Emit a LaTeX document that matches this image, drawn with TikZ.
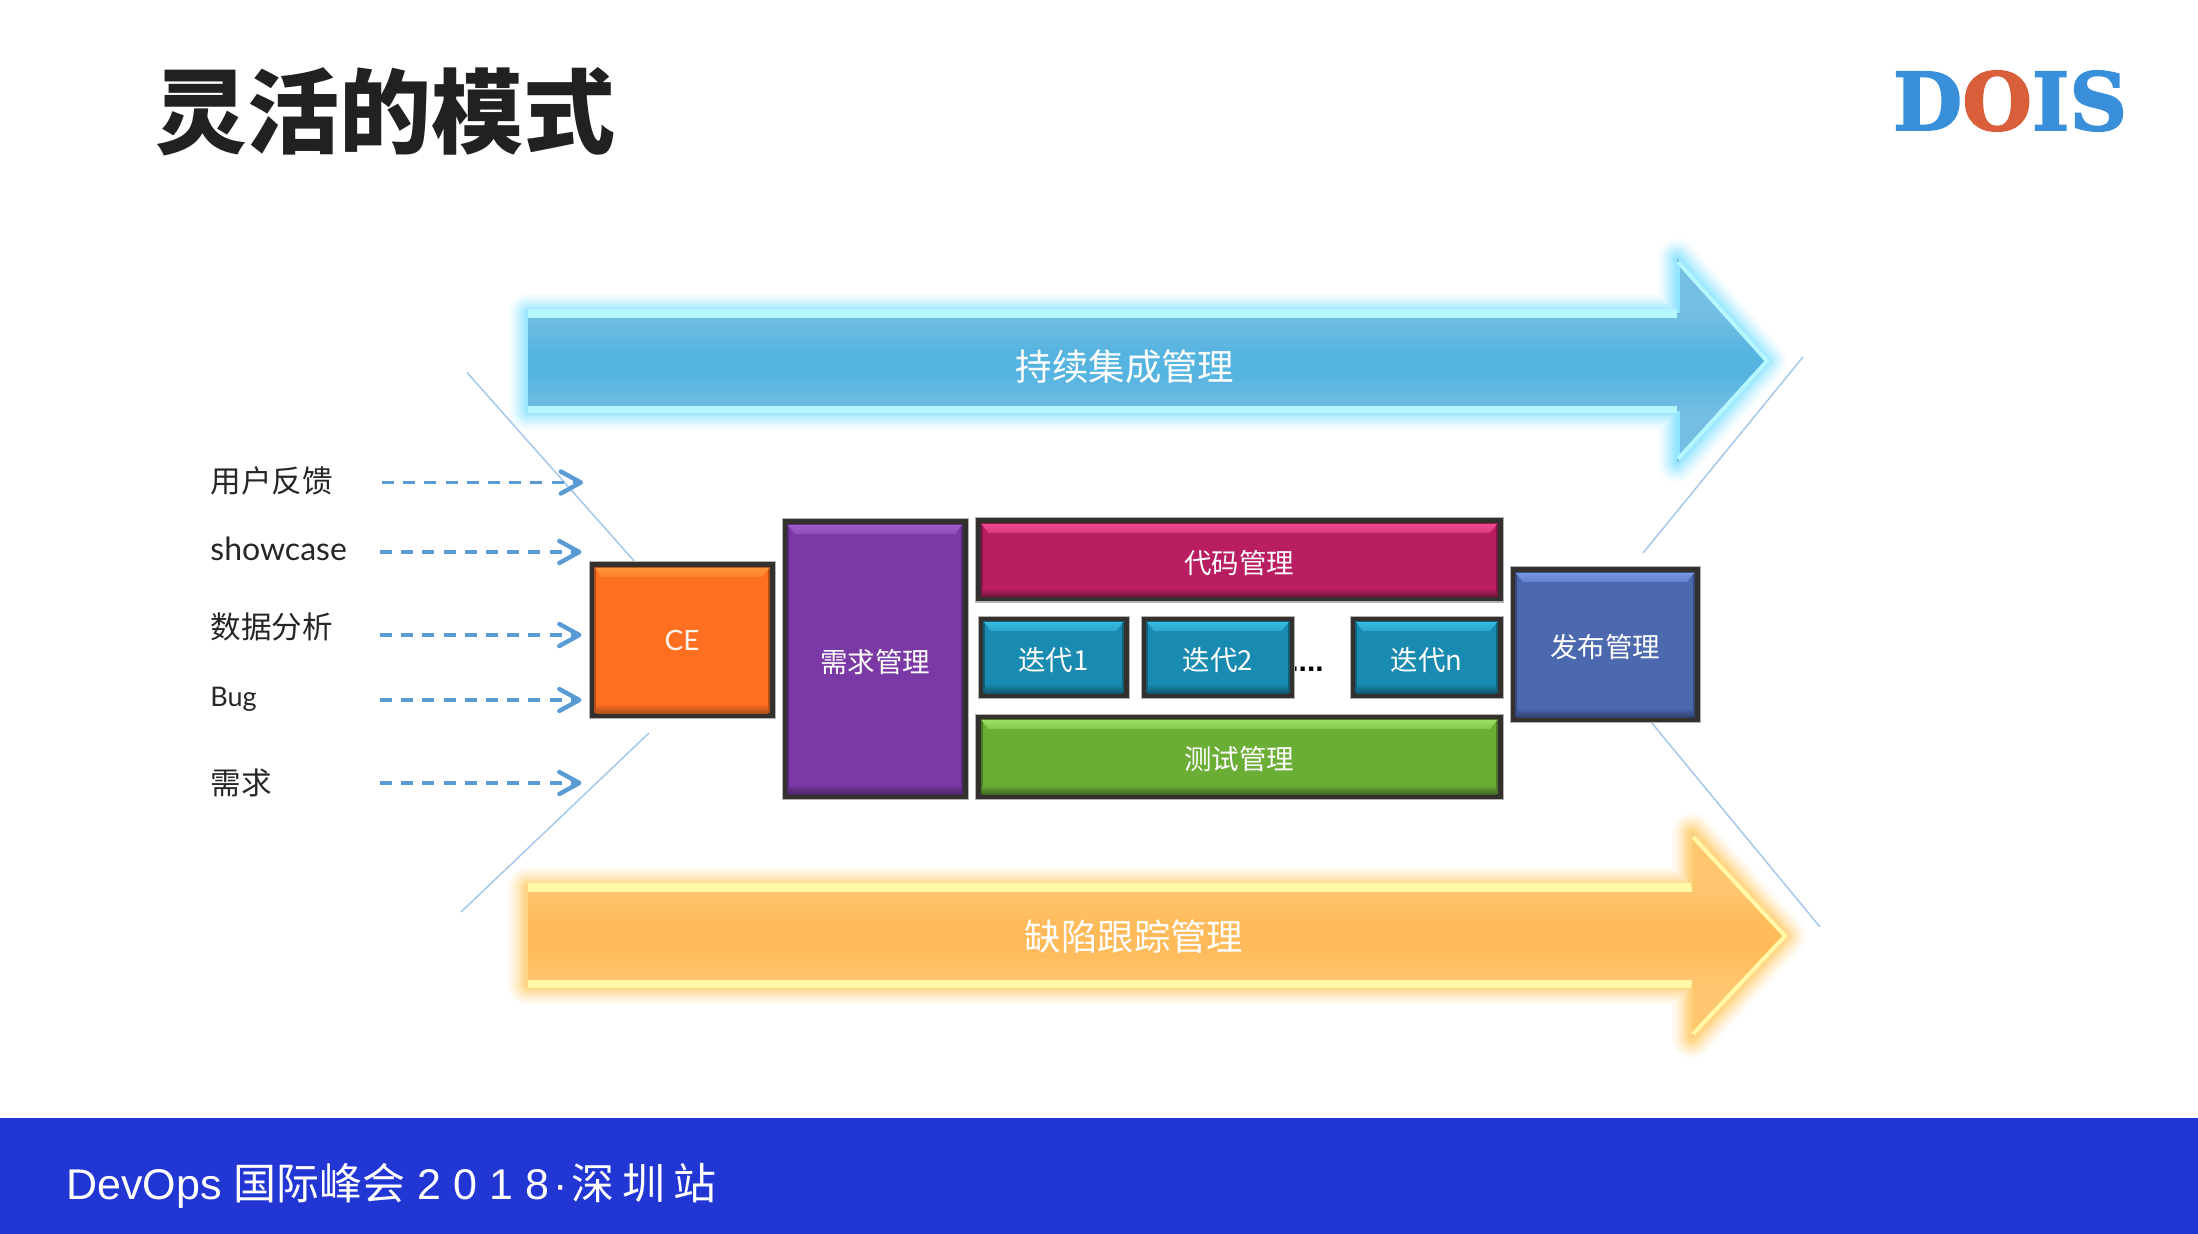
\documentclass[tikz,border=0pt]{standalone}
\usepackage{fontspec}
\usetikzlibrary{calc,arrows.meta}
\setmainfont{Liberation Sans}
\newfontfamily\cjk{Noto Sans CJK SC}
\newfontfamily\latin{Lato}
\newfontfamily\slab[BoldFeatures={FakeBold=2}]{DejaVu Serif}
\definecolor{barblue}{HTML}{2236D4}
\definecolor{dashblue}{HTML}{5B9BD5}
\definecolor{thinblue}{HTML}{A6C8EA}
\definecolor{logoblue}{HTML}{3A8FDB}
\definecolor{logored}{HTML}{D95F3A}
\definecolor{edgedark}{HTML}{33302E}
\definecolor{skyedge}{HTML}{74BDE3}
\definecolor{skymid}{HTML}{56B4E0}
\definecolor{skyglow}{HTML}{8FE4FF}
\definecolor{skyline}{HTML}{B5F6FF}
\definecolor{amberedge}{HTML}{FFC670}
\definecolor{ambermid}{HTML}{FFBA5A}
\definecolor{amberglow}{HTML}{FFD078}
\definecolor{amberline}{HTML}{FFF9A8}
\definecolor{CEorange}{HTML}{FF6F21}
\definecolor{CElight}{HTML}{FF9435}
\definecolor{CEdark}{HTML}{B0501C}
\definecolor{PUmain}{HTML}{7A39A4}
\definecolor{PUlight}{HTML}{A05CCC}
\definecolor{PUdark}{HTML}{4A2566}
\definecolor{RDmain}{HTML}{BA1E62}
\definecolor{RDlight}{HTML}{F04A90}
\definecolor{RDdark}{HTML}{70133C}
\definecolor{TLmain}{HTML}{1A8BB0}
\definecolor{TLlight}{HTML}{38BAE2}
\definecolor{TLdark}{HTML}{0F5870}
\definecolor{GRmain}{HTML}{6BAE36}
\definecolor{GRlight}{HTML}{9ADE66}
\definecolor{GRdark}{HTML}{3F6A20}
\definecolor{BLmain}{HTML}{4C69B0}
\definecolor{BLlight}{HTML}{7596E2}
\definecolor{BLdark}{HTML}{2E4070}
\tikzset{
  x=0.5pt, y=-0.5pt,
  bevelbox/.style n args={3}{
    rectangle, inner sep=0pt, draw=black!30, line width=0.5pt, fill=edgedark,
    text=white, font=\cjk\fontsize{13.75}{14}\selectfont,
    text height=13.4pt, text depth=0pt,
    path picture={
      \coordinate (nw) at (path picture bounding box.north west);
      \coordinate (se) at (path picture bounding box.south east);
      \fill[#1!70!black] ($(nw)+(5,5)$) rectangle ($(se)+(-5,-5)$);
      \fill[#1] ($(nw)+(7,6)$) rectangle ($(se)+(-7,-6)$);
      \shade[top color=#2, bottom color=#2!55!#1] ($(nw)+(6,6)$) -- ($(se|-nw)+(-6,6)$) -- ($(se|-nw)+(-13,15)$) -- ($(nw)+(13,15)$) -- cycle;
      \shade[top color=#1, bottom color=#3] ($(nw|-se)+(7,-14)$) rectangle ($(se)+(-7,-5)$);
    }},
  labeltext/.style={anchor=west, inner sep=0pt, text=black!85, font=\cjk\fontsize{15.3}{16}\selectfont},
  latintext/.style={anchor=west, inner sep=0pt, text=black!85, font=\latin\fontsize{16}{16}\selectfont},
  feed/.style={dashblue, line width=1.6pt, dash pattern=on 6pt off 4.6pt,
    -{Straight Barb[length=10pt,width=11pt,line width=2.2pt,round]}},
  thin guide/.style={thinblue, line width=0.75pt},
  bandlabel/.style={text=white, font=\cjk\fontsize{18.2}{19}\selectfont}
}
\begin{document}
\begin{tikzpicture}
\useasboundingbox (0,0) rectangle (2198,1234);
\fill[white] (0,0) rectangle (2198,1234);

% heading and logo
\node[anchor=center, text=black!87, font=\cjk\bfseries\fontsize{46}{46}\selectfont] (title) at (385,112) {灵活的模式};
\node[anchor=center, font=\slab\bfseries\fontsize{40}{40}\selectfont] (logo) at (2010,101)
  {\textcolor{logoblue}{D}\textcolor{logored}{O}\textcolor{logoblue}{IS}};

% footer band
\node[rectangle, fill=barblue, minimum width=1099pt, minimum height=57.7pt, inner sep=0pt, anchor=south west] (band) at (0,1234) {};
\node[anchor=base west, inner sep=0pt, text=white, font=\fontsize{21.5}{22}\selectfont] (event) at (66,1199)
  {DevOps {\cjk 国际峰会} 2 0 1 8\hspace{2pt}·\hspace{2pt}{\cjk 深\hspace{4pt}圳\hspace{4pt}站}};

% upper long arrow
\def\upperarrow{(528,313) -- (1677,313) -- (1677,258) -- (1767,361) -- (1677,463) -- (1677,411) -- (528,411) -- cycle}
\foreach \w/\p in {38/8,34/14,30/22,26/32,22/42,18/52,14/64,10/76,6/88}
  \draw[line width=\w*0.5pt, skyglow!\p!white, line join=round] \upperarrow;
\fill[skyedge] \upperarrow;
\begin{scope}
  \clip \upperarrow;
  \shade[top color=skyedge, bottom color=skymid] (528,316) rectangle (1767,352);
  \fill[skymid] (528,352) rectangle (1767,375);
  \shade[top color=skymid, bottom color=skyedge] (528,375) rectangle (1767,411);
\end{scope}
\draw[skyline, line width=4.5pt] (528,313.5) -- (1677,313.5);
\draw[skyline, line width=3.5pt] (528,410) -- (1677,410);
\draw[skyglow, line width=1.5pt] (1678,262) -- (1678,313) (1678,411) -- (1678,459);
\draw[skyline, line width=2pt, line join=miter] (1678,262) -- (1767,361) -- (1678,459);
\node[bandlabel] (ci) at (1125,367) {持续集成管理};

% lower long arrow
\def\lowerarrow{(528,887) -- (1692,887) -- (1692,833) -- (1785,936) -- (1692,1038) -- (1692,985) -- (528,985) -- cycle}
\foreach \w/\p in {40/8,36/14,32/22,28/32,24/42,20/52,16/64,12/76,8/88}
  \draw[line width=\w*0.5pt, amberglow!\p!white, line join=round] \lowerarrow;
\fill[amberedge] \lowerarrow;
\begin{scope}
  \clip \lowerarrow;
  \shade[top color=amberedge, bottom color=ambermid] (528,890) rectangle (1785,925);
  \fill[ambermid] (528,925) rectangle (1785,948);
  \shade[top color=ambermid, bottom color=amberedge] (528,948) rectangle (1785,985);
\end{scope}
\draw[amberline, line width=4.5pt] (528,887.5) -- (1692,887.5);
\draw[amberline, line width=4pt] (528,984) -- (1692,984);
\draw[amberglow, line width=1pt] (1692,837) -- (1692,887) (1692,985) -- (1692,1034);
\draw[amberline, line width=2pt, line join=miter] (1693,837) -- (1785,936) -- (1693,1034);
\node[bandlabel] (bug) at (1134,937) {缺陷跟踪管理};

% thin converging guides
\coordinate (ga) at (467,372.5);
\coordinate (gb) at (635,562);
\coordinate (gc) at (649,733);
\coordinate (gd) at (461,912);
\coordinate (ge) at (1803,357);
\coordinate (gf) at (1643,553);
\coordinate (gg) at (1651,722);
\coordinate (gh) at (1820,927);
\draw[thin guide] (ga) -- (gb);
\draw[thin guide] (gc) -- (gd);
\draw[thin guide] (ge) -- (gf);
\draw[thin guide] (gg) -- (gh);

% inputs on the left
\node[labeltext] (l1) at (210,481) {用户反馈};
\node[latintext] (l2) at (210,549) {showcase};
\node[labeltext] (l3) at (210,627) {数据分析};
\node[latintext, font=\latin\fontsize{13.5}{14}\selectfont] (l4) at (210,699) {Bug};
\node[labeltext] (l5) at (210,783) {需求};
\coordinate (s1) at (382,482.5);
\coordinate (e1) at (583,482.5);
\coordinate (s2) at (380,552);
\coordinate (e2) at (581.5,552);
\coordinate (s3) at (380,635);
\coordinate (e3) at (581.5,635);
\coordinate (s4) at (380,700);
\coordinate (e4) at (581.5,700);
\coordinate (s5) at (380,783);
\coordinate (e5) at (581.5,783);
\foreach \i in {1,...,5} \draw[feed] (s\i) -- (e\i);

% ellipsis sits partly behind the second iteration box
\node[anchor=base, text=black, font=\bfseries\fontsize{15}{15}\selectfont] (gap) at (1307,671) {....};

% pipeline boxes
\node[bevelbox={CEorange}{CElight}{CEdark}, minimum width=93pt, minimum height=78pt, text height=10pt, text=white!92!orange, font=\latin\fontsize{14}{14}\selectfont] (ce) at (682,640) {CE};
\node[bevelbox={PUmain}{PUlight}{PUdark}, minimum width=93pt, minimum height=140pt] (req) at (875,659) {需求管理};
\node[bevelbox={RDmain}{RDlight}{RDdark}, minimum width=263.75pt, minimum height=42pt] (code) at (1239.25,560) {代码管理};
\node[bevelbox={TLmain}{TLlight}{TLdark}, minimum width=75.5pt, minimum height=41pt] (it1) at (1053.5,657) {迭代1};
\node[bevelbox={TLmain}{TLlight}{TLdark}, minimum width=76.75pt, minimum height=41pt] (it2) at (1217.75,657) {迭代2};
\node[bevelbox={TLmain}{TLlight}{TLdark}, minimum width=76.5pt, minimum height=41pt] (itn) at (1426.5,657) {迭代n};
\node[bevelbox={GRmain}{GRlight}{GRdark}, minimum width=263.75pt, minimum height=42.5pt] (test) at (1239.25,756.5) {测试管理};
\node[bevelbox={BLmain}{BLlight}{BLdark}, minimum width=95pt, minimum height=77.5pt] (rel) at (1605,644.5) {发布管理};
\end{tikzpicture}
\end{document}
